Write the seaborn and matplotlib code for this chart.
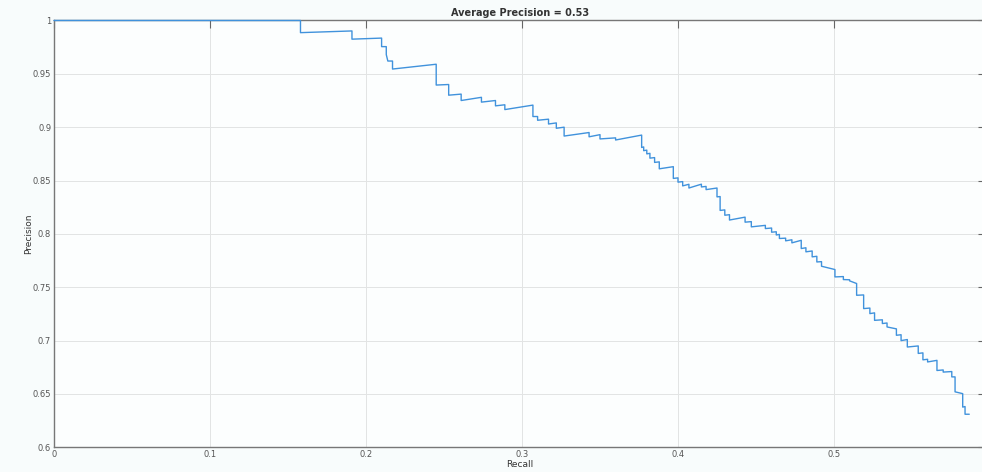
import matplotlib
matplotlib.use("Agg")
import matplotlib.pyplot as plt
import seaborn as sns
import pandas as pd
from matplotlib.ticker import FuncFormatter, MultipleLocator

# Precision-recall curve vertices
recall = [
    0.000, 0.158, 0.158, 0.191, 0.191, 0.210, 0.210, 0.213, 0.213, 0.214,
    0.217, 0.217, 0.245, 0.245, 0.253, 0.253, 0.261, 0.261, 0.274, 0.274,
    0.283, 0.283, 0.289, 0.289, 0.307, 0.307, 0.310, 0.310, 0.317, 0.317,
    0.322, 0.322, 0.327, 0.327, 0.343, 0.343, 0.350, 0.350, 0.360, 0.360,
    0.3767, 0.3767, 0.378, 0.378, 0.380, 0.380, 0.382, 0.382, 0.385, 0.385,
    0.388, 0.388, 0.397, 0.397, 0.400, 0.400, 0.403, 0.403, 0.407, 0.407,
    0.415, 0.415, 0.418, 0.418, 0.425, 0.425, 0.427, 0.427, 0.430, 0.430,
    0.433, 0.433, 0.443, 0.443, 0.447, 0.447, 0.456, 0.456, 0.460, 0.460,
    0.463, 0.463, 0.465, 0.465, 0.469, 0.469, 0.473, 0.473, 0.479, 0.479,
    0.482, 0.482, 0.486, 0.486, 0.489, 0.489, 0.492, 0.492, 0.5006, 0.5006,
    0.506, 0.506, 0.510, 0.510, 0.5145, 0.5145, 0.519, 0.519, 0.523, 0.523,
    0.526, 0.526, 0.531, 0.531, 0.534, 0.534, 0.540, 0.540, 0.543, 0.543,
    0.547, 0.547, 0.554, 0.554, 0.557, 0.557, 0.560, 0.560, 0.566, 0.566,
    0.570, 0.570, 0.5755, 0.5755, 0.5776, 0.5776, 0.5825, 0.5825, 0.5840,
    0.5840, 0.5867,
]
precision = [
    1.000, 1.000, 0.9886, 0.9902, 0.9825, 0.9835, 0.9755, 0.9755, 0.968, 0.962,
    0.962, 0.9545, 0.959, 0.9395, 0.940, 0.930, 0.931, 0.925, 0.928, 0.9235,
    0.925, 0.920, 0.921, 0.9165, 0.9207, 0.910, 0.910, 0.9065, 0.9075, 0.903,
    0.904, 0.899, 0.900, 0.8917, 0.895, 0.891, 0.893, 0.889, 0.890, 0.888,
    0.8926, 0.881, 0.8815, 0.878, 0.8785, 0.875, 0.8755, 0.871, 0.8715, 0.867,
    0.8675, 0.861, 0.863, 0.852, 0.8525, 0.8485, 0.849, 0.845, 0.8465, 0.843,
    0.8466, 0.844, 0.8445, 0.8415, 0.843, 0.8347, 0.835, 0.822, 0.8225, 0.8175,
    0.818, 0.813, 0.8157, 0.811, 0.8115, 0.8066, 0.808, 0.805, 0.8055, 0.8016,
    0.802, 0.799, 0.7995, 0.7957, 0.796, 0.7935, 0.7945, 0.7916, 0.794, 0.7863,
    0.787, 0.7832, 0.784, 0.7785, 0.779, 0.7737, 0.774, 0.7697, 0.7666, 0.7597,
    0.760, 0.7572, 0.757, 0.756, 0.7535, 0.7425, 0.7428, 0.730, 0.7305, 0.7253,
    0.726, 0.719, 0.7195, 0.716, 0.7165, 0.7128, 0.711, 0.705, 0.7055, 0.700,
    0.701, 0.694, 0.695, 0.688, 0.6885, 0.682, 0.6825, 0.680, 0.6815, 0.672,
    0.6725, 0.6705, 0.671, 0.666, 0.666, 0.652, 0.6503, 0.6377, 0.6382,
    0.631, 0.631,
]

title_text = "Average Precision = 0.53"
x_label = "Recall"
y_label = "Precision"

df = pd.DataFrame({"Recall": recall, "Precision": precision})

sns.set_theme(style="white")
plt.rcParams["font.family"] = ["DejaVu Sans"]

fig = plt.figure(figsize=(9.82, 4.72), dpi=100, facecolor="#f8fcfc")
ax = fig.add_axes([54 / 982, 0.0523, 932 / 982, 0.9043])
ax.set_facecolor("#fcfefe")

sns.lineplot(data=df, x="Recall", y="Precision", sort=False, estimator=None,
             color="#4092dc", linewidth=1.0, ax=ax)
# let the top segment at precision 1 sit on the frame, as in the original
for ln in ax.get_lines():
    ln.set_clip_on(False)
    ln.set_zorder(5)

ax.set_xlim(0, 932 / 1560)
ax.set_ylim(0.6, 1.0)
ax.xaxis.set_major_locator(MultipleLocator(0.1))
ax.yaxis.set_major_locator(MultipleLocator(0.05))
fmt = FuncFormatter(lambda v, _: f"{v:g}")
ax.xaxis.set_major_formatter(fmt)
ax.yaxis.set_major_formatter(fmt)

ax.grid(True, color="#e2e4e4", linewidth=0.7)
ax.set_axisbelow(True)
ax.tick_params(direction="in", length=6, width=0.8, color="#666666",
               labelsize=6, labelcolor="#555555", top=True, right=True, pad=2)
for s in ax.spines.values():
    s.set_color("#777777")
    s.set_linewidth(1.0)
    s.set_zorder(4)

ax.set_xlabel(x_label, fontsize=6.5, color="#333333", labelpad=1)
ax.set_ylabel(y_label, fontsize=6.5, color="#333333", labelpad=0)
ax.set_title(title_text, fontsize=7, fontweight="bold", color="#333333", pad=3)

fig.savefig("out.png", dpi=100, facecolor=fig.get_facecolor())
